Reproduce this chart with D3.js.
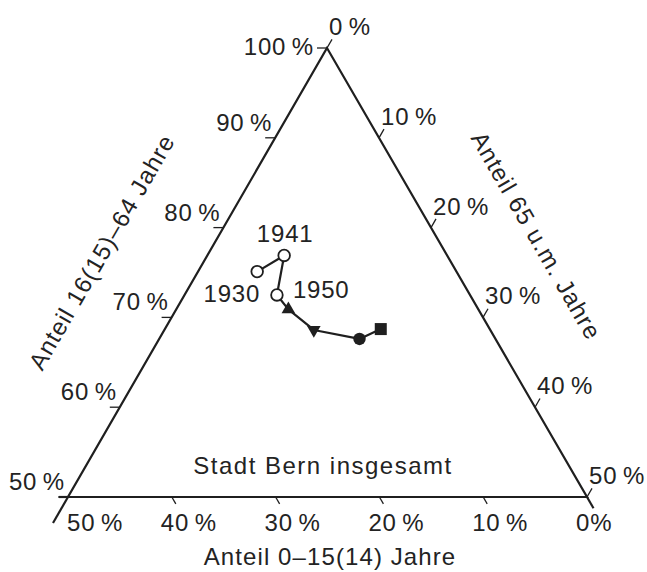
<!DOCTYPE html>
<html>
<head>
<meta charset="utf-8">
<script src="https://cdn.jsdelivr.net/npm/d3@7"></script>
<style>
  html, body { margin: 0; padding: 0; background: #fff; }
  svg text { font-family: "Liberation Sans", Arial, sans-serif; fill: #232323; }
</style>
</head>
<body>
<svg id="chart" width="647" height="572"></svg>
<script>
// ---- data ----
const years  = [1930, 1941, 1950, 1960, 1970, 1980, 1990];
const youth  = [19.2, 15.7, 18.6, 18.3, 17.0, 13.1, 10.5];   // Anteil 0–15(14) Jahre
const middle = [75.1, 76.9, 72.5, 70.9, 68.6, 67.6, 68.7];   // Anteil 16(15)–64 Jahre
const old    = [5.7, 7.4, 8.9, 10.8, 14.4, 19.3, 20.8];      // Anteil 65 u.m. Jahre
const labeledYears = [1930, 1941, 1950];

const leftTicks    = [50, 60, 70, 80, 90, 100];
const leftLabels   = ["50\u2009%", "60\u2009%", "70\u2009%", "80\u2009%", "90\u2009%", "100\u2009%"];
const rightTicks   = [0, 10, 20, 30, 40, 50];
const rightLabels  = ["0\u2009%", "10\u2009%", "20\u2009%", "30\u2009%", "40\u2009%", "50\u2009%"];
const bottomTicks  = [50, 40, 30, 20, 10, 0];
const bottomLabels = ["50\u2009%", "40\u2009%", "30\u2009%", "20\u2009%", "10\u2009%", "0%"];

const titleLeft   = "Anteil 16(15)\u201364 Jahre";
const titleRight  = "Anteil 65 u.m. Jahre";
const titleBottom = "Anteil 0\u201315(14) Jahre";
const caption     = "Stadt Bern insgesamt";

// ---- geometry ----
const svg = d3.select("#chart");
const T = [327, 48], L = [68, 497], R = [587, 497];

// barycentric weights via linear scales
const wTop   = d3.scaleLinear().domain([50, 100]).range([0, 1]); // middle share
const wRight = d3.scaleLinear().domain([0, 50]).range([0, 1]);   // old share
const wLeft  = d3.scaleLinear().domain([0, 50]).range([0, 1]);   // youth share

function proj(y, m, o) {
  const b = wTop(m), a = wRight(o), c = wLeft(y);
  const s = a + b + c;
  return [(L[0] * c + R[0] * a + T[0] * b) / s, (L[1] * c + R[1] * a + T[1] * b) / s];
}

const ink = "#1f1f1f";
const dUpRight = [0.5, -0.866], dDownRight = [0.5, 0.866], dDownLeft = [-0.5, 0.866];

// triangle frame
svg.append("path")
  .attr("d", d3.line()([T, R, L]) + "Z")
  .attr("fill", "none").attr("stroke", ink).attr("stroke-width", 2.2)
  .attr("stroke-linejoin", "miter");

// left edge extension below the bottom-left corner
svg.append("line")
  .attr("x1", L[0]).attr("y1", L[1])
  .attr("x2", L[0] + dDownLeft[0] * 30).attr("y2", L[1] + dDownLeft[1] * 30)
  .attr("stroke", ink).attr("stroke-width", 2.2);

const fs = 24;

// left axis (middle share)
const gl = svg.append("g");
leftTicks.forEach((t, i) => {
  const p = proj(100 - t, t, 0);
  gl.append("line").attr("x1", p[0]).attr("y1", p[1]).attr("x2", p[0] - 10).attr("y2", p[1])
    .attr("stroke", ink).attr("stroke-width", 1.3);
  const top = t === 100;
  gl.append("text")
    .attr("x", top ? p[0] - 13 : p[0] - 3)
    .attr("y", top ? p[1] + 7 : p[1] - 7)
    .attr("text-anchor", "end").attr("font-size", fs).attr("letter-spacing", 0.8)
    .text(leftLabels[i]);
});

// right axis (old share)
const gr = svg.append("g");
rightTicks.forEach((t, i) => {
  const p = proj(0, 100 - t, t);
  gr.append("line").attr("x1", p[0]).attr("y1", p[1])
    .attr("x2", p[0] + dUpRight[0] * 10).attr("y2", p[1] + dUpRight[1] * 10)
    .attr("stroke", ink).attr("stroke-width", 1.3);
  gr.append("text")
    .attr("x", p[0] + 2).attr("y", p[1] - 13)
    .attr("text-anchor", "start").attr("font-size", fs).attr("letter-spacing", 0.8)
    .text(rightLabels[i]);
});

// bottom axis (youth share)
const gb = svg.append("g");
bottomTicks.forEach((t, i) => {
  const p = proj(t, 50, 50 - t);
  if (t !== 50) {
    const len = t === 0 ? 13 : 8;
    gb.append("line").attr("x1", p[0]).attr("y1", p[1])
      .attr("x2", p[0] + dDownRight[0] * len).attr("y2", p[1] + dDownRight[1] * len)
      .attr("stroke", ink).attr("stroke-width", t === 0 ? 2.2 : 1.3);
  } else {
    gb.append("line").attr("x1", p[0]).attr("y1", p[1]).attr("x2", p[0] - 9).attr("y2", p[1])
      .attr("stroke", ink).attr("stroke-width", 2.2);
  }
  gb.append("text")
    .attr("x", t === 50 ? p[0] - 1 : p[0] - 11).attr("y", p[1] + 34)
    .attr("text-anchor", "start").attr("font-size", fs).attr("letter-spacing", 0.8)
    .text(bottomLabels[i]);
});

// axis titles
svg.append("text").attr("transform", "translate(109,256) rotate(-60)")
  .attr("text-anchor", "middle").attr("font-size", fs).attr("letter-spacing", 1.1)
  .text(titleLeft);
svg.append("text").attr("transform", "translate(529,240) rotate(60)")
  .attr("text-anchor", "middle").attr("font-size", fs).attr("letter-spacing", 1.1)
  .text(titleRight);
svg.append("text").attr("x", 330).attr("y", 565)
  .attr("text-anchor", "middle").attr("font-size", fs).attr("letter-spacing", 1.1)
  .text(titleBottom);
svg.append("text").attr("x", 323).attr("y", 474)
  .attr("text-anchor", "middle").attr("font-size", fs).attr("letter-spacing", 1.5)
  .text(caption);

// trajectory
const pts = years.map((yr, i) => proj(youth[i], middle[i], old[i]));
svg.append("path")
  .attr("d", d3.line()(pts))
  .attr("fill", "none").attr("stroke", ink).attr("stroke-width", 2.2)
  .attr("stroke-linejoin", "round");

// markers
const gm = svg.append("g");
years.forEach((yr, i) => {
  const [x, y] = pts[i];
  if (yr <= 1950) {
    gm.append("circle").attr("cx", x).attr("cy", y).attr("r", 5.8)
      .attr("fill", "#fff").attr("stroke", ink).attr("stroke-width", 1.8);
  } else if (yr === 1960 || yr === 1970) {
    gm.append("path")
      .attr("d", d3.symbol(d3.symbolTriangle, 80)())
      .attr("transform", `translate(${x},${y}) rotate(${yr === 1960 ? 0 : 180})`)
      .attr("fill", ink);
  } else if (yr === 1980) {
    gm.append("circle").attr("cx", x).attr("cy", y).attr("r", 6.2).attr("fill", ink);
  } else {
    gm.append("rect").attr("x", x - 6).attr("y", y - 6).attr("width", 12).attr("height", 12)
      .attr("fill", ink);
  }
});

// year labels
const yearOffsets = { 1930: [3, 30, "end"], 1941: [1, -13, "middle"], 1950: [16, 3, "start"] };
labeledYears.forEach(yr => {
  const i = years.indexOf(yr);
  const [x, y] = pts[i];
  const o = yearOffsets[yr];
  svg.append("text").attr("x", x + o[0]).attr("y", y + o[1])
    .attr("text-anchor", o[2]).attr("font-size", fs).attr("letter-spacing", 0.8)
    .text(String(yr));
});
</script>
</body>
</html>
